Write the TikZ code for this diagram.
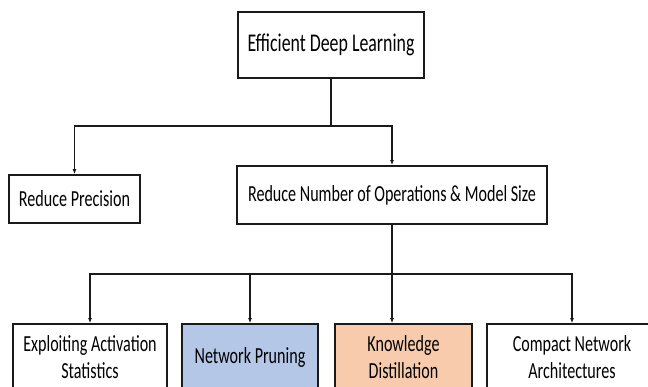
\documentclass[tikz,border=0pt]{standalone}
\usepackage{fontspec}
\setmainfont{Carlito}[FakeStretch=0.70]
\usepackage{xcolor}
\usepackage{tikz}
\usetikzlibrary{arrows.meta,calc}
\definecolor{PruneBlue}{HTML}{B4C7E7}
\definecolor{DistilOrange}{HTML}{F8CBAD}
\definecolor{LineDark}{HTML}{1A1A1A}

\begin{document}
\begin{tikzpicture}[x=1pt,y=-1pt,
                    every node/.style={font=\fontsize{23}{27}\selectfont,text=black},
                    box/.style={draw=LineDark,line width=1.7pt,fill=white,
                                inner sep=0pt,align=center},
                    ar/.style={-{Latex[length=5pt,width=4pt]},LineDark,line width=1.3pt},
                    ln/.style={LineDark,line width=1.3pt}]
  \useasboundingbox (0,0) rectangle (648,387);
  % root and first level
  \node[box,minimum width=186pt,minimum height=66pt,
        font=\fontsize{25.5}{30}\selectfont] (edl) at (331,45)
    {Efficient Deep Learning};
  \node[box,minimum width=131pt,minimum height=48pt] (prec) at (74.5,199)
    {Reduce Precision};
  \node[box,minimum width=310pt,minimum height=58pt] (ops) at (392,195)
    {Reduce Number of Operations \& Model Size};
  % second level, boxes run past the lower edge
  \node[box,minimum width=154pt,minimum height=66pt] (stats) at (90,357)
    {Exploiting Activation\\Statistics};
  \node[box,fill=PruneBlue,minimum width=136pt,minimum height=66pt] (prune) at (250,357)
    {Network Pruning};
  \node[box,fill=DistilOrange,minimum width=137pt,minimum height=66pt] (distil) at (403.5,357)
    {Knowledge\\Distillation};
  \node[box,minimum width=170pt,minimum height=66pt] (arch) at (572,357)
    {Compact Network\\Architectures};
  % connectors
  \coordinate (j1) at (edl.south |- 0,126);
  \coordinate (j2) at (ops.south |- 0,274);
  \draw[ln] (edl.south) -- (j1);
  \draw[ar] (j1) -| (prec.north);
  \draw[ar] (j1) -| (ops.north);
  \draw[ln] (ops.south) -- (j2);
  \draw[ar] (j2) -| (stats.north);
  \draw[ar] (j2) -| (prune.north);
  \draw[ar] (j2) -- (j2 |- distil.north);
  \draw[ar] (j2) -| (arch.north);
\end{tikzpicture}
\end{document}
